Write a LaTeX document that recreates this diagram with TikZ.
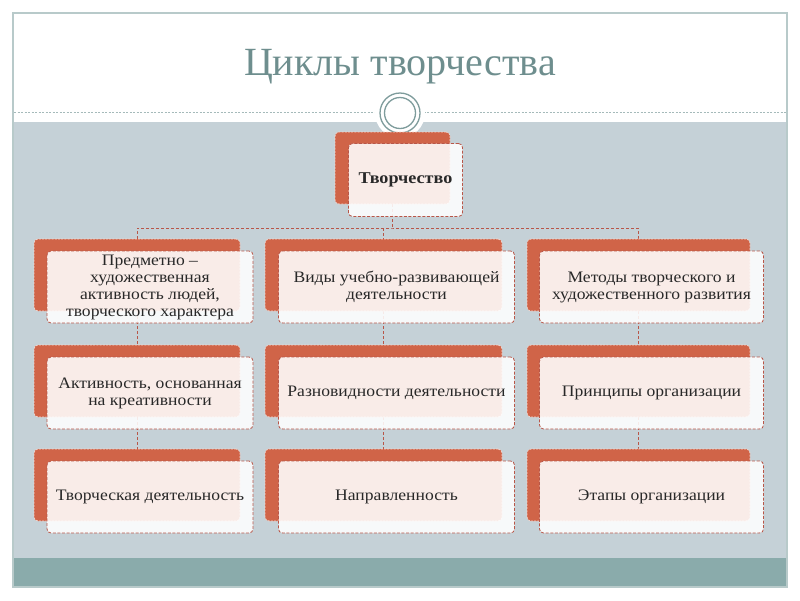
\documentclass[tikz,border=0pt]{standalone}
\usepackage{fontspec}
\setmainfont[FakeStretch=1.1]{Liberation Serif}
\newfontfamily\titlefont{Liberation Serif}
\usetikzlibrary{positioning}

\definecolor{tileorange}{RGB}{208,100,72}
\definecolor{linkred}{RGB}{184,86,72}
\definecolor{slidegray}{RGB}{197,209,215}
\definecolor{bandteal}{RGB}{138,171,171}
\definecolor{titleteal}{RGB}{110,142,142}
\definecolor{framegray}{RGB}{184,202,202}
\definecolor{ringgray}{RGB}{126,156,156}
\definecolor{inkgray}{RGB}{40,40,40}

\pgfdeclarelayer{bg}
\pgfdeclarelayer{links}
\pgfsetlayers{bg,links,main}

\begin{document}
\begin{tikzpicture}[x=1pt,y=-1pt]

% Back tile (orange) and front tile (light, half see-through) of each block
\tikzstyle{back}=[rectangle, rounded corners=4pt, fill=tileorange, draw=white!75!tileorange, dash pattern=on 2pt off 1.2pt, line width=0.7pt, minimum height=72pt, inner sep=0pt]
\tikzstyle{front}=[rectangle, rounded corners=4pt, fill=white, fill opacity=0.88, text opacity=1, draw=linkred, dash pattern=on 3pt off 1.6pt, line width=0.8pt, minimum height=72pt, inner sep=0pt, align=center, text=inkgray, font=\fontsize{16}{17}\selectfont]
\tikzstyle{link}=[draw=linkred, dash pattern=on 3pt off 2pt, line width=0.8pt]

% Define dimensions
\def\dx{13}       % Shift of the front tile to the right
\def\dy{12}       % Shift of the front tile downwards

\def\xa{137}      % Centre of column one
\def\xb{383.5}    % Centre of column two
\def\xc{638.5}    % Centre of column three

\def\ya{275}      % Centre of row one
\def\yb{381}      % Centre of row two
\def\yc{485}      % Centre of row three

\useasboundingbox (0,0) rectangle (800,600);

% Slide: frame, grey field, band at the bottom, title
\begin{pgfonlayer}{bg}
\fill[white] (0,0) rectangle (800,600);
\fill[slidegray] (13,122) rectangle (787,558);
\fill[bandteal] (13,558) rectangle (787,587);
\draw[framegray, line width=1.2pt] (13,13) rectangle (787,587);
\draw[ringgray!70, dash pattern=on 2pt off 1.5pt, line width=0.6pt] (14,112) -- (786,112);
\fill[white] (400,113) circle [radius=25];
\end{pgfonlayer}

\node (title) at (400,67) {\titlefont\fontsize{40}{44}\selectfont\color{titleteal}Циклы творчества};

% The ring under the title
\draw[ringgray, line width=1.3pt, fill=white] (400,113) circle [radius=20];
\draw[ringgray, line width=1.3pt] (400,113) circle [radius=15.5];

% Top block
\node[back, minimum width=115pt] (top) at (392.5,168) {};
\node[front, minimum width=114pt, minimum height=73pt, font=\fontsize{16.5}{17}\selectfont\bfseries] (topf) at ([shift={(\dx,\dy)}]top.center) {Творчество};

% Column one
\node[back, minimum width=206pt] (b11) at (\xa,\ya) {};
\node[front, minimum width=206pt] (f11) at ([shift={(\dx,\dy)}]b11.center) {Предметно --\\художественная\\активность людей,\\творческого характера};
\node[back, minimum width=206pt] (b21) at (\xa,\yb) {};
\node[front, minimum width=206pt] (f21) at ([shift={(\dx,\dy)}]b21.center) {Активность, основанная\\на креативности};
\node[back, minimum width=206pt] (b31) at (\xa,\yc) {};
\node[front, minimum width=206pt] (f31) at ([shift={(\dx,\dy)}]b31.center) {Творческая деятельность};

% Column two
\node[back, minimum width=237pt] (b12) at (\xb,\ya) {};
\node[front, minimum width=236pt] (f12) at ([shift={(\dx,\dy)}]b12.center) {Виды учебно-развивающей\\деятельности};
\node[back, minimum width=237pt] (b22) at (\xb,\yb) {};
\node[front, minimum width=236pt] (f22) at ([shift={(\dx,\dy)}]b22.center) {Разновидности деятельности};
\node[back, minimum width=237pt] (b32) at (\xb,\yc) {};
\node[front, minimum width=236pt] (f32) at ([shift={(\dx,\dy)}]b32.center) {Направленность};

% Column three
\node[back, minimum width=223pt] (b13) at (\xc,\ya) {};
\node[front, minimum width=224pt] (f13) at ([shift={(\dx,\dy)}]b13.center) {Методы творческого и\\художественного развития};
\node[back, minimum width=223pt] (b23) at (\xc,\yb) {};
\node[front, minimum width=224pt] (f23) at ([shift={(\dx,\dy)}]b23.center) {Принципы организации};
\node[back, minimum width=223pt] (b33) at (\xc,\yc) {};
\node[front, minimum width=224pt] (f33) at ([shift={(\dx,\dy)}]b33.center) {Этапы организации};

% Dashed links, kept under the tiles
\coordinate (bus) at (392.5,228);
\begin{pgfonlayer}{links}
\draw[link] (top.south) -- (bus);
\draw[link] (b11.north) |- (bus) -| (b13.north);
\draw[link] (bus -| b12.north) -- (b12.north);
\draw[link] (b11.south) -- (b21.north);
\draw[link] (b21.south) -- (b31.north);
\draw[link] (b12.south) -- (b22.north);
\draw[link] (b22.south) -- (b32.north);
\draw[link] (b13.south) -- (b23.north);
\draw[link] (b23.south) -- (b33.north);
\end{pgfonlayer}

\end{tikzpicture}
\end{document}
